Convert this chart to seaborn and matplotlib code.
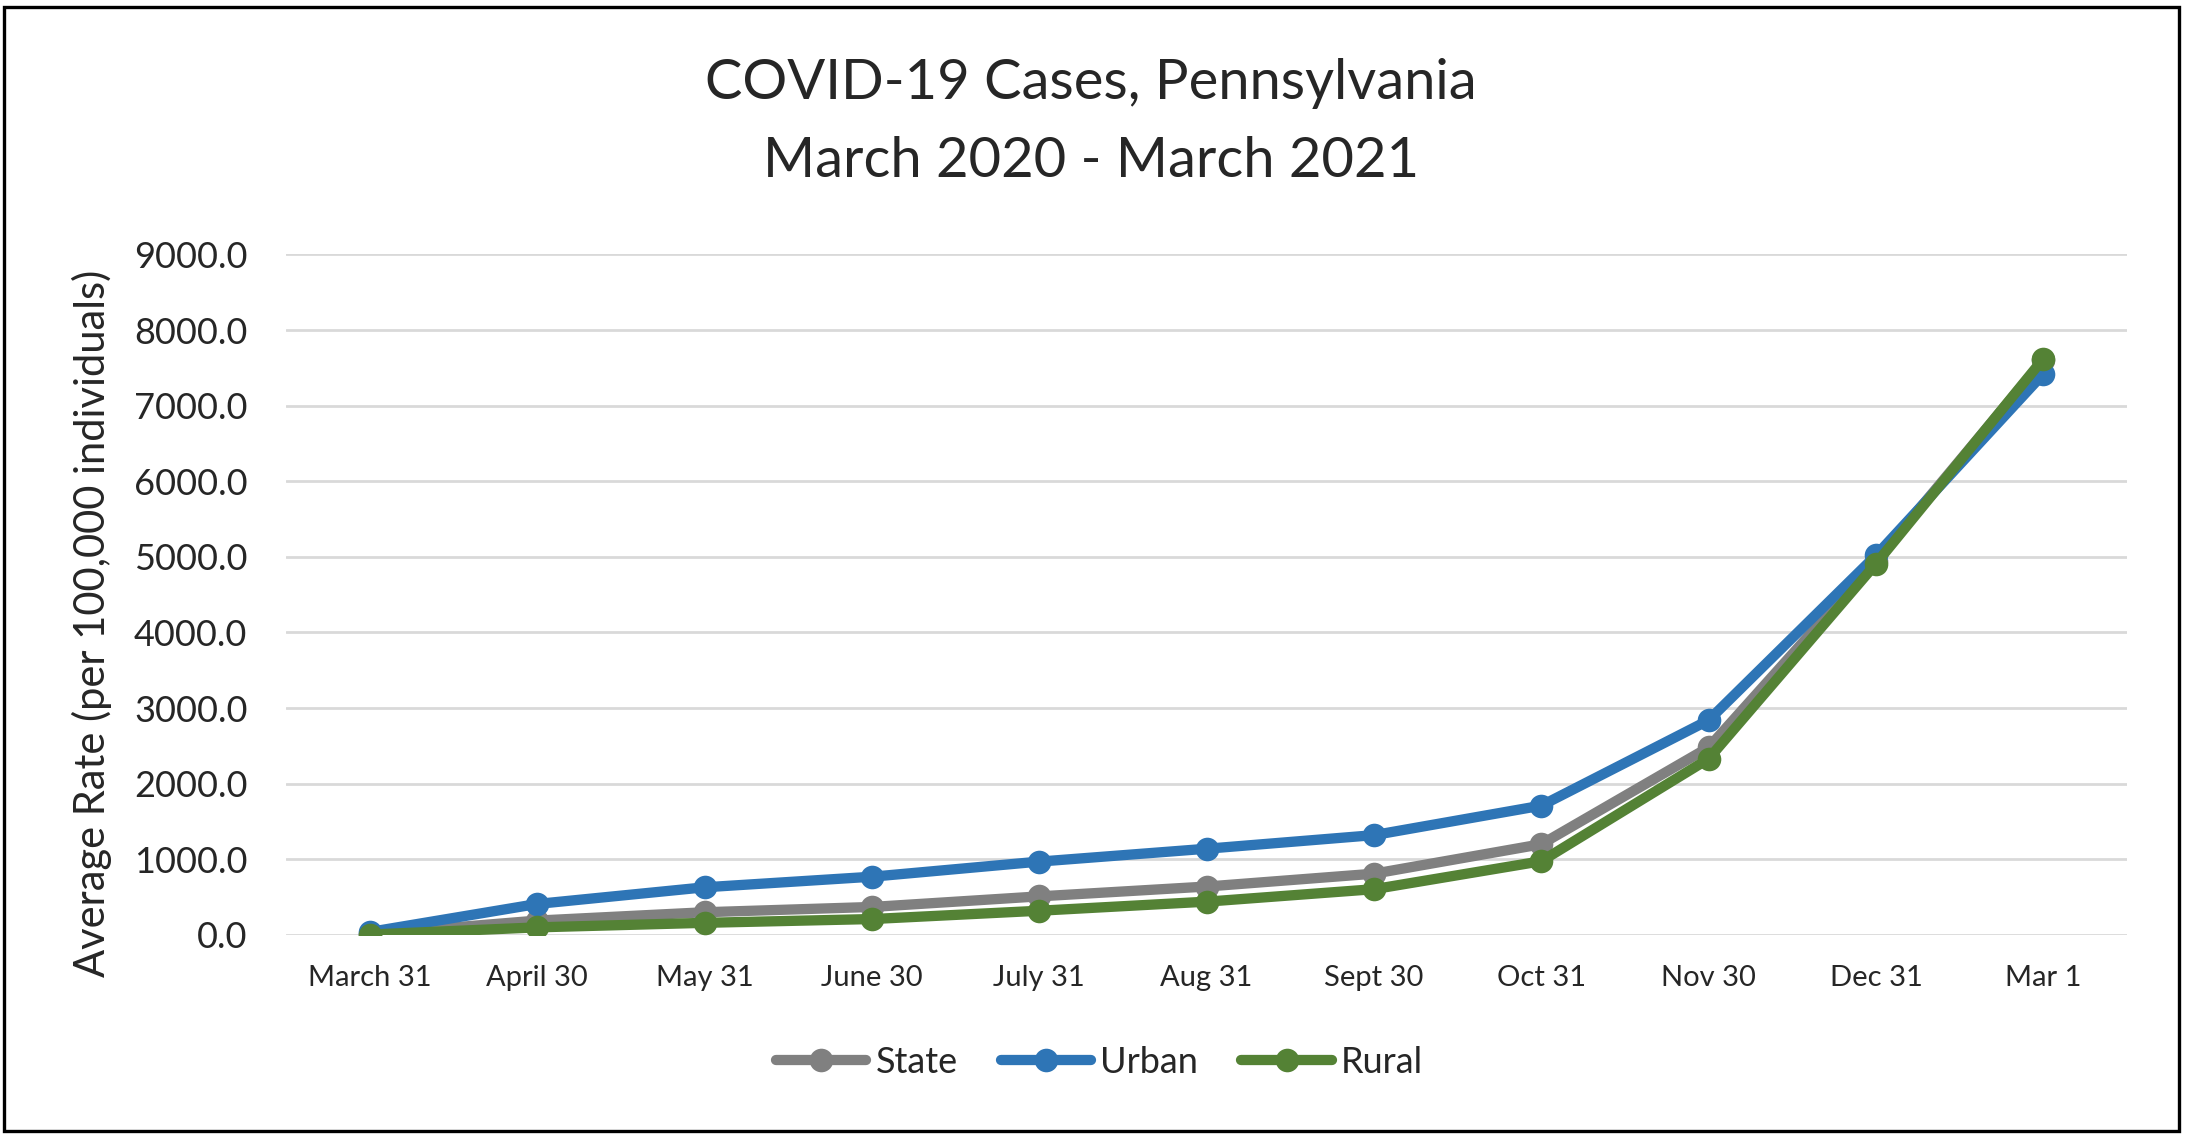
import numpy as np
import pandas as pd
import matplotlib
matplotlib.use("Agg")
import matplotlib.pyplot as plt
import seaborn as sns
from matplotlib.ticker import FuncFormatter, MultipleLocator
from matplotlib.patches import Rectangle

dates = ["March 31", "April 30", "May 31", "June 30", "July 31", "Aug 31",
         "Sept 30", "Oct 31", "Nov 30", "Dec 31", "Mar 1"]
state = [10, 190, 300, 370, 510, 640, 810, 1200, 2480, 4950, 7600]
urban = [40, 410, 630, 770, 970, 1140, 1320, 1710, 2840, 5020, 7420]
rural = [5, 100, 160, 210, 320, 440, 605, 975, 2330, 4910, 7620]

series = ["State", "Urban", "Rural"]
colors = {"State": "#808080", "Urban": "#2E75B6", "Rural": "#548235"}

df = pd.DataFrame({
    "date": dates * 3,
    "rate": state + urban + rural,
    "group": [s for s in series for _ in dates],
})

sns.set_style("white")
plt.rcParams["font.family"] = ["Lato", "DejaVu Sans"]

fig = plt.figure(figsize=(10.93, 5.68), dpi=200)
ax = fig.add_axes([0.131, 0.177, 0.842, 0.599])

sns.lineplot(data=df, x="date", y="rate", hue="group", hue_order=series,
             palette=colors, marker="o", markersize=8.5, markeredgewidth=0,
             linewidth=3.7, sort=False, ax=ax, zorder=3)

ax.set_xlim(-0.5, len(dates) - 0.5)
ax.set_ylim(0, 9000)
ax.yaxis.set_major_locator(MultipleLocator(1000))
ax.yaxis.set_major_formatter(FuncFormatter(lambda v, p: f"{v:.1f}"))
ax.grid(axis="y", color="#D9D9D9", linewidth=1.0, zorder=0)
ax.grid(axis="x", visible=False)
for sp in ax.spines.values():
    sp.set_visible(False)
ax.tick_params(axis="x", length=0, pad=11, labelsize=10.5)
ax.tick_params(axis="y", length=0, pad=14, labelsize=13)
ax.set_xlabel("")
ax.set_ylabel("")

fig.text(0.042, 0.451, "Average Rate (per 100,000 individuals)", rotation=90,
         ha="center", va="center", fontsize=15)
fig.text(0.499, 0.892, "COVID-19 Cases, Pennsylvania\nMarch 2020 - March 2021",
         ha="center", va="center", fontsize=20.2, linespacing=1.65)

handles, labels = ax.get_legend_handles_labels()
for h in handles:
    h.set_solid_capstyle("round")
ax.legend(handles, labels, loc="center", bbox_to_anchor=(0.503, 0.065),
          bbox_transform=fig.transFigure, ncol=3, frameon=False,
          fontsize=13, handlelength=2.5, handletextpad=0.25,
          columnspacing=1.2)

fig.patches.append(Rectangle((0.002, 0.004), 0.995, 0.99, transform=fig.transFigure,
                             fill=False, edgecolor="black", linewidth=1.2))

fig.savefig("out.png", dpi=200)
